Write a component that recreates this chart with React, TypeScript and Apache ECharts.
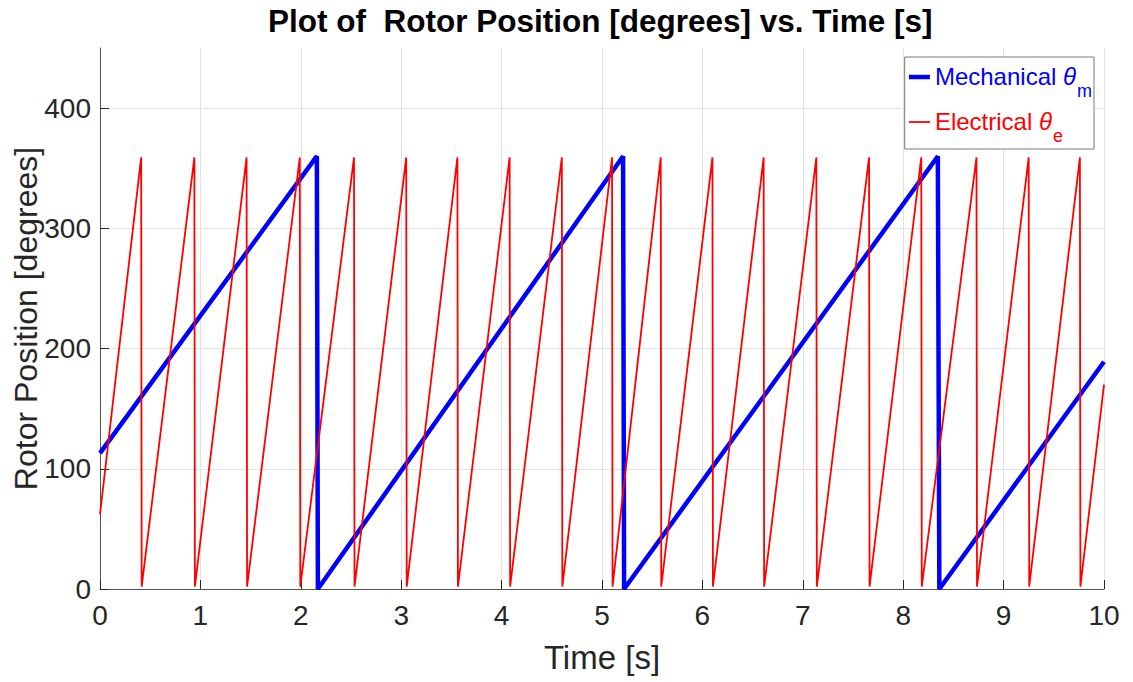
import React, { useEffect, useRef } from "react";
import * as echarts from "echarts";

// ---- data ----
const yTicks = [0, 100, 200, 300, 400];

// Mechanical rotor position (degrees) vs time (s)
const mechTime = [0, 2.16, 2.17, 5.21, 5.22, 8.345, 8.36, 10];
const mechDeg = [113, 360, 0, 360, 0, 360, 0, 189];

// Electrical rotor position (degrees) vs time (s)
const elecTime = [
  0, 0.41, 0.415, 0.94, 0.945, 1.46, 1.465, 1.99, 1.995, 2.53, 2.535, 3.05, 3.055,
  3.56, 3.565, 4.08, 4.085, 4.6, 4.605, 5.1, 5.105, 5.585, 5.59, 6.1, 6.105, 6.61,
  6.615, 7.135, 7.14, 7.66, 7.665, 8.18, 8.185, 8.73, 8.735, 9.25, 9.255, 9.76, 9.765, 10,
];
const elecDeg = [
  62, 359, 2, 359, 2, 359, 2, 359, 2, 359, 2, 359, 2,
  359, 2, 359, 2, 359, 2, 359, 2, 359, 2, 359, 2, 359,
  2, 359, 2, 359, 2, 359, 2, 359, 2, 359, 2, 359, 2, 170,
];

const MECH = "Mechanical θm";
const ELEC = "Electrical θe";
const FONT = "'Liberation Sans', Arial, Helvetica, sans-serif";

export default function App() {
  const ref = useRef<HTMLDivElement>(null);

  useEffect(() => {
    if (!ref.current) return;
    const chart = echarts.init(ref.current, undefined, { renderer: "svg" });
    const mechData = mechTime.map((t, i) => [t, mechDeg[i]]);
    const elecData = elecTime.map((t, i) => [t, elecDeg[i]]);
    const tickColor = "#262626";
    const axisLineColor = "#555555";
    const gridColor = "#e2e2e2";

    const sub = (color: string) => ({
      fontSize: 18,
      color,
      lineHeight: 18,
      padding: [18, 0, 0, 1],
      verticalAlign: "top",
      fontFamily: FONT,
    });
    const main = (color: string) => ({
      fontSize: 24,
      color,
      lineHeight: 26,
      verticalAlign: "top",
      fontFamily: FONT,
    });
    const theta = (color: string) => ({
      fontSize: 24,
      color,
      lineHeight: 26,
      fontStyle: "italic",
      verticalAlign: "top",
      fontFamily: FONT,
    });
    const hidden = { color: "rgba(0,0,0,0)", borderColor: "rgba(0,0,0,0)", borderWidth: 0, opacity: 0 };

    chart.setOption({
      animation: false,
      backgroundColor: "#ffffff",
      textStyle: { fontFamily: FONT },
      title: {
        text: "Plot of  Rotor Position [degrees] vs. Time [s]",
        left: 268,
        top: 5,
        padding: 0,
        textStyle: { fontSize: 31.5, fontWeight: "bold", color: "#000000", fontFamily: FONT },
      },
      legend: {
        orient: "vertical",
        right: 39,
        top: 57,
        padding: [7, 2, 4, 2],
        itemGap: 9,
        itemWidth: 21,
        itemHeight: 14,
        align: "left",
        backgroundColor: "#ffffff",
        borderColor: "#7a7a7a",
        borderWidth: 1,
        borderRadius: 0,
        selectedMode: false,
        data: [
          {
            name: MECH,
            lineStyle: { width: 4.5, color: "#0000ff" },
            itemStyle: hidden,
            textStyle: { color: "#0000ff" },
          },
          {
            name: ELEC,
            lineStyle: { width: 1.8, color: "#ff0000" },
            itemStyle: hidden,
            textStyle: { color: "#ff0000" },
          },
        ],
        formatter: (name: string) =>
          name === MECH ? "{mt|Mechanical }{mth|θ}{ms|m}" : "{et|Electrical }{eth|θ}{es|e}",
        textStyle: {
          fontSize: 24,
          fontFamily: FONT,
          rich: {
            mt: main("#0000ff"),
            mth: theta("#0000ff"),
            ms: sub("#0000ff"),
            et: main("#ff0000"),
            eth: theta("#ff0000"),
            es: sub("#ff0000"),
          },
        },
      },
      grid: {
        left: 100,
        right: 29,
        top: 48,
        bottom: 93,
        containLabel: false,
        outerBoundsMode: "none",
      },
      xAxis: {
        type: "value",
        min: 0,
        max: 10,
        interval: 1,
        name: "Time [s]",
        nameLocation: "middle",
        nameGap: 52,
        nameMoveOverlap: false,
        nameTextStyle: { fontSize: 33, color: tickColor, fontFamily: FONT },
        axisLine: { show: true, lineStyle: { color: axisLineColor, width: 1 } },
        axisTick: { show: true, inside: true, length: 9, lineStyle: { color: tickColor } },
        axisLabel: { fontSize: 28, color: tickColor, margin: 12, fontFamily: FONT },
        splitLine: { show: true, lineStyle: { color: gridColor, width: 1 } },
      },
      yAxis: {
        type: "value",
        min: 0,
        max: 450,
        interval: 100,
        name: "Rotor Position [degrees]",
        nameLocation: "middle",
        nameGap: 58,
        nameRotate: 90,
        nameMoveOverlap: false,
        nameTextStyle: { fontSize: 32, color: tickColor, fontFamily: FONT },
        axisLine: { show: true, lineStyle: { color: axisLineColor, width: 1 } },
        axisTick: {
          show: true,
          inside: true,
          length: 9,
          customValues: yTicks,
          lineStyle: { color: tickColor },
        },
        axisLabel: {
          fontSize: 28,
          color: tickColor,
          margin: 9,
          customValues: yTicks,
          fontFamily: FONT,
        },
        splitLine: { show: true, lineStyle: { color: gridColor, width: 1 } },
      },
      series: [
        {
          name: MECH,
          type: "line",
          data: mechData,
          symbol: "none",
          showSymbol: false,
          lineStyle: { color: "#0000ff", width: 4.5 },
          itemStyle: { color: "#0000ff" },
          z: 2,
        },
        {
          name: ELEC,
          type: "line",
          data: elecData,
          symbol: "none",
          showSymbol: false,
          lineStyle: { color: "#ff0000", width: 1.8 },
          itemStyle: { color: "#ff0000" },
          z: 3,
        },
      ],
    });
    return () => chart.dispose();
  }, []);

  return (
    <div
      ref={ref}
      style={{ position: "fixed", left: 0, top: 0, width: 1133, height: 682, background: "#fff" }}
    />
  );
}
